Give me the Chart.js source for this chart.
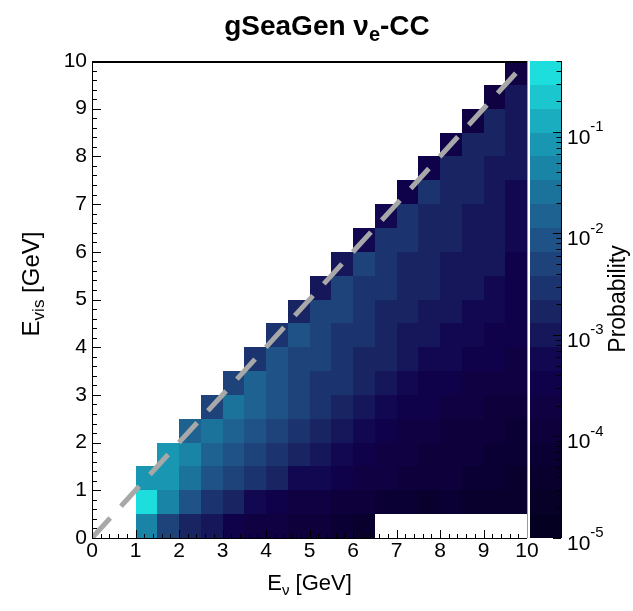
<!DOCTYPE html>
<html>
<head>
<meta charset="utf-8">
<script src="https://cdn.jsdelivr.net/npm/chart.js@4.4.1/dist/chart.umd.min.js"></script>
<style>
  html, body { margin: 0; padding: 0; background: #fff; }
  #caixa { width: 633px; height: 611px; }
</style>
</head>
<body>
<div id="caixa"><canvas id="grafico"></canvas></div>
<script>
/* --------- DADOS --------- */

// bins de 0.5 GeV, E_nu no eixo x e E_vis no eixo y
const larguraBin = 0.5;
const ticksEixo = [0, 1, 2, 3, 4, 5, 6, 7, 8, 9, 10];
const ticksCor = [1e-5, 1e-4, 1e-3, 1e-2, 1e-1];
const zMin = 1e-5;
const zMax = 0.5;
const nContornos = 20;

// probabilidade por bin: uma linha por bin de E_vis (0-0.5, 0.5-1, ...),
// cada coluna = bin de E_nu (0-0.5 ... 9.5-10). null = bin vazio
const _ = null;
const probPorLinha = [
  [_, _, 4.4e-2, 5.0e-3, 1.7e-3, 1.0e-3, 3.4e-4, 2.0e-4, 1.9e-4, 1.1e-4, 1.0e-4, 6.5e-5, 4.0e-5, _, _, _, _, _, _, _],
  [_, _, 0.38, 4.4e-2, 8.6e-3, 2.9e-3, 1.7e-3, 5.8e-4, 3.4e-4, 2.0e-4, 1.9e-4, 1.1e-4, 1.0e-4, 7.0e-5, 6.5e-5, 4.2e-5, 6.0e-5, 4.0e-5, 4.5e-5, 4.0e-5],
  [_, _, 7.5e-2, 7.2e-2, 2.6e-2, 8.6e-3, 5.0e-3, 2.9e-3, 1.7e-3, 5.8e-4, 5.5e-4, 3.4e-4, 2.0e-4, 1.9e-4, 1.1e-4, 1.0e-4, 1.0e-4, 6.5e-5, 6.5e-5, 4.0e-5],
  [_, _, _, 7.0e-2, 4.4e-2, 1.5e-2, 8.6e-3, 5.0e-3, 2.9e-3, 1.7e-3, 1.0e-3, 5.8e-4, 3.4e-4, 2.0e-4, 1.9e-4, 1.1e-4, 1.0e-4, 1.0e-4, 6.5e-5, 6.5e-5],
  [_, _, _, _, 1.5e-2, 2.6e-2, 1.5e-2, 8.6e-3, 5.0e-3, 2.9e-3, 1.7e-3, 1.0e-3, 5.8e-4, 3.4e-4, 2.0e-4, 1.9e-4, 1.1e-4, 1.0e-4, 1.0e-4, 6.5e-5],
  [_, _, _, _, _, 5.0e-3, 2.6e-2, 1.5e-2, 8.6e-3, 5.0e-3, 2.9e-3, 1.7e-3, 1.0e-3, 5.8e-4, 3.4e-4, 3.2e-4, 2.0e-4, 1.9e-4, 1.1e-4, 1.0e-4],
  [_, _, _, _, _, _, 4.8e-3, 1.5e-2, 8.6e-3, 5.0e-3, 2.9e-3, 2.8e-3, 1.7e-3, 1.0e-3, 5.8e-4, 3.4e-4, 3.3e-4, 2.0e-4, 1.9e-4, 1.8e-4],
  [_, _, _, _, _, _, _, 2.9e-3, 8.4e-3, 5.0e-3, 4.8e-3, 2.9e-3, 1.7e-3, 1.6e-3, 1.0e-3, 5.8e-4, 5.6e-4, 3.4e-4, 3.3e-4, 2.0e-4],
  [_, _, _, _, _, _, _, _, 2.8e-3, 8.6e-3, 5.0e-3, 2.9e-3, 2.8e-3, 1.7e-3, 1.0e-3, 9.8e-4, 5.8e-4, 5.6e-4, 3.4e-4, 3.3e-4],
  [_, _, _, _, _, _, _, _, _, 1.7e-3, 5.2e-3, 5.0e-3, 2.9e-3, 1.7e-3, 1.6e-3, 1.0e-3, 9.8e-4, 5.8e-4, 5.6e-4, 3.4e-4],
  [_, _, _, _, _, _, _, _, _, _, 1.0e-3, 5.0e-3, 2.9e-3, 2.8e-3, 1.7e-3, 1.6e-3, 1.0e-3, 9.8e-4, 5.8e-4, 3.3e-4],
  [_, _, _, _, _, _, _, _, _, _, _, 9.8e-4, 5.0e-3, 2.9e-3, 1.7e-3, 1.6e-3, 1.0e-3, 9.8e-4, 9.6e-4, 3.4e-4],
  [_, _, _, _, _, _, _, _, _, _, _, _, 5.8e-4, 2.9e-3, 2.8e-3, 1.7e-3, 1.6e-3, 1.0e-3, 9.8e-4, 5.8e-4],
  [_, _, _, _, _, _, _, _, _, _, _, _, _, 5.6e-4, 2.9e-3, 1.7e-3, 1.6e-3, 1.0e-3, 9.8e-4, 5.6e-4],
  [_, _, _, _, _, _, _, _, _, _, _, _, _, _, 3.4e-4, 2.8e-3, 1.7e-3, 1.6e-3, 1.0e-3, 5.8e-4],
  [_, _, _, _, _, _, _, _, _, _, _, _, _, _, _, 3.3e-4, 1.7e-3, 1.6e-3, 1.0e-3, 9.8e-4],
  [_, _, _, _, _, _, _, _, _, _, _, _, _, _, _, _, 3.4e-4, 1.7e-3, 1.6e-3, 1.0e-3],
  [_, _, _, _, _, _, _, _, _, _, _, _, _, _, _, _, _, 2.0e-4, 1.7e-3, 9.8e-4],
  [_, _, _, _, _, _, _, _, _, _, _, _, _, _, _, _, _, _, 1.9e-4, 1.0e-3],
  [_, _, _, _, _, _, _, _, _, _, _, _, _, _, _, _, _, _, _, 2.0e-4]
];

// linha E_vis = E_nu
const diagonal = [{ x: 0, y: 0 }, { x: 10, y: 10 }];

/* --------- PALETA (DeepSea do ROOT) --------- */

const paradaR = [0, 9, 13, 17, 24, 32, 27, 25, 29];
const paradaG = [0, 0, 0, 2, 37, 74, 113, 160, 221];
const paradaB = [28, 42, 59, 78, 98, 129, 154, 184, 221];
const nCores = 255;

function corPaleta(t) {
  const s = t * 8;
  const i = Math.min(7, Math.floor(s));
  const f = s - i;
  const mix = (arr) => Math.round(arr[i] + f * (arr[i + 1] - arr[i]));
  return `rgb(${mix(paradaR)},${mix(paradaG)},${mix(paradaB)})`;
}

const larguraBanda = (Math.log10(zMax) - Math.log10(zMin)) / nContornos;

// mesma regra do THistPainter: nivel do contorno -> indice da paleta
function corDoNivel(nivel) {
  const idx = Math.floor((nivel + 0.99) * nCores / nContornos);
  return corPaleta(Math.min(idx, nCores - 1) / (nCores - 1));
}

function corDoValor(v) {
  let nivel = Math.floor((Math.log10(v) - Math.log10(zMin)) / larguraBanda);
  nivel = Math.max(0, Math.min(nContornos - 1, nivel));
  return corDoNivel(nivel);
}

// pontos no centro de cada bin, com a probabilidade junto
const celulas = [];
probPorLinha.forEach((linha, iy) => {
  linha.forEach((v, ix) => {
    if (v === null) return;
    celulas.push({ x: (ix + 0.5) * larguraBin, y: (iy + 0.5) * larguraBin, v });
  });
});

/* --------- TEXTO COM INDICE --------- */

const fonte = '"Liberation Sans", Arial, Helvetica, sans-serif';

// partes: [{t, tam, dy, negrito}] ; desenha na linha de base y do ctx atual
function larguraPartes(ctx, partes) {
  let w = 0;
  partes.forEach(p => {
    ctx.font = `${p.negrito ? 'bold ' : ''}${p.tam}px ${fonte}`;
    w += ctx.measureText(p.t).width;
  });
  return w;
}

function desenhaPartes(ctx, partes, x, y) {
  let cx = x;
  partes.forEach(p => {
    ctx.font = `${p.negrito ? 'bold ' : ''}${p.tam}px ${fonte}`;
    ctx.fillText(p.t, cx, y + (p.dy || 0));
    cx += ctx.measureText(p.t).width;
  });
}

/* --------- PLUGIN: celulas, moldura, barra de cores --------- */

const plugMapa = {
  id: 'mapa',
  beforeDatasetsDraw(chart) {
    const { ctx, scales: { x, y } } = chart;
    ctx.save();
    chart.data.datasets[0].data.forEach(p => {
      const x0 = Math.round(x.getPixelForValue(p.x - larguraBin / 2));
      const x1 = Math.round(x.getPixelForValue(p.x + larguraBin / 2));
      const y0 = Math.round(y.getPixelForValue(p.y + larguraBin / 2));
      const y1 = Math.round(y.getPixelForValue(p.y - larguraBin / 2));
      ctx.fillStyle = corDoValor(p.v);
      ctx.fillRect(x0, y0, x1 - x0, y1 - y0);
    });
    ctx.restore();
  },
  afterDatasetsDraw(chart) {
    const { ctx, chartArea: a, scales: { x, y, z } } = chart;
    ctx.save();

    // ticks para dentro, 5 subdivisoes
    ctx.strokeStyle = '#000';
    ctx.lineWidth = 1;
    ctx.beginPath();
    for (let i = 0; i <= 50; i++) {
      const v = i * 0.2;
      const grande = i % 5 === 0;
      const px = Math.round(x.getPixelForValue(v)) + 0.5;
      ctx.moveTo(px, a.bottom);
      ctx.lineTo(px, a.bottom - (grande ? 8 : 4));
      const py = Math.round(y.getPixelForValue(v)) + 0.5;
      ctx.moveTo(a.left, py);
      ctx.lineTo(a.left + (grande ? 9 : 5), py);
    }
    ctx.stroke();

    // moldura
    ctx.beginPath();
    ctx.moveTo(a.left + 0.5, a.top);
    ctx.lineTo(a.left + 0.5, a.bottom + 0.5);
    ctx.lineTo(a.right, a.bottom + 0.5);
    ctx.stroke();
    ctx.lineWidth = 2;
    ctx.beginPath();
    ctx.moveTo(a.left, a.top + 1);
    ctx.lineTo(a.right, a.top + 1);
    ctx.stroke();
    ctx.strokeStyle = '#9a9a9a';
    ctx.lineWidth = 1;
    ctx.beginPath();
    ctx.moveTo(a.right + 0.5, a.top);
    ctx.lineTo(a.right + 0.5, a.bottom);
    ctx.stroke();

    // barra de cores
    const bx0 = a.right + 3;
    const bx1 = a.right + 34;
    const logMin = Math.log10(zMin);
    for (let k = 0; k < nContornos; k++) {
      const yb = Math.round(z.getPixelForValue(Math.pow(10, logMin + k * larguraBanda)));
      const yt = Math.round(z.getPixelForValue(Math.pow(10, logMin + (k + 1) * larguraBanda)));
      ctx.fillStyle = corDoNivel(k);
      ctx.fillRect(bx0, yt, bx1 - bx0, yb - yt);
    }
    ctx.strokeStyle = '#000';
    ctx.beginPath();
    ctx.moveTo(bx1 + 0.5, z.top);
    ctx.lineTo(bx1 + 0.5, z.bottom);
    for (let dec = -5; dec <= 0; dec++) {
      for (let m = 1; m <= 9; m++) {
        const v = m * Math.pow(10, dec);
        if (v < zMin || v > zMax) continue;
        const py = Math.round(z.getPixelForValue(v)) + 0.5;
        ctx.moveTo(bx1, py);
        ctx.lineTo(bx1 - (m === 1 ? 8 : 4.5), py);
      }
    }
    ctx.stroke();

    // rotulos 10^n da barra
    ctx.fillStyle = '#000';
    ctx.textBaseline = 'middle';
    ctx.textAlign = 'left';
    ticksCor.forEach(v => {
      const py = z.getPixelForValue(v);
      const exp = Math.round(Math.log10(v));
      desenhaPartes(ctx, [
        { t: '10', tam: 21, dy: 6 },
        { t: '-' + Math.abs(exp), tam: 15, dy: -5 }
      ], bx1 + 6, py);
    });

    // titulo
    ctx.textBaseline = 'alphabetic';
    const partesTitulo = [
      { t: 'gSeaGen ν', tam: 28, negrito: true },
      { t: 'e', tam: 20, dy: 6, negrito: true },
      { t: '-CC', tam: 28, negrito: true }
    ];
    const wt = larguraPartes(ctx, partesTitulo);
    desenhaPartes(ctx, partesTitulo, 327 - wt / 2, 35);

    // titulo do eixo x
    const partesX = [
      { t: 'E', tam: 22 },
      { t: 'ν', tam: 15, dy: 5 },
      { t: ' [GeV]', tam: 22 }
    ];
    const wx = larguraPartes(ctx, partesX);
    desenhaPartes(ctx, partesX, (a.left + a.right) / 2 - wx / 2, 590);

    // titulo do eixo y (girado)
    const partesY = [
      { t: 'E', tam: 24 },
      { t: 'vis', tam: 17, dy: 5 },
      { t: ' [GeV]', tam: 24 }
    ];
    const wy = larguraPartes(ctx, partesY);
    ctx.save();
    ctx.translate(39, 284);
    ctx.rotate(-Math.PI / 2);
    desenhaPartes(ctx, partesY, -wy / 2, 0);
    ctx.restore();

    // titulo da barra
    const partesZ = [{ t: 'Probability', tam: 23 }];
    const wz = larguraPartes(ctx, partesZ);
    ctx.save();
    ctx.translate(625, 299);
    ctx.rotate(-Math.PI / 2);
    desenhaPartes(ctx, partesZ, -wz / 2, 0);
    ctx.restore();

    ctx.restore();
  }
};

/* --------- GRAFICO --------- */

Chart.defaults.font.family = fonte;
Chart.defaults.color = '#000';

const grafico = new Chart(document.getElementById('grafico'), {
  type: 'scatter',
  data: {
    datasets: [
      {
        label: 'Probability',
        data: celulas,
        pointRadius: 0,
        showLine: false,
        xAxisID: 'x',
        yAxisID: 'y'
      },
      {
        label: 'E_vis = E_nu',
        data: diagonal,
        showLine: true,
        pointRadius: 0,
        borderColor: '#a8a8a8',
        borderWidth: 5,
        borderDash: [27, 16],
        xAxisID: 'x',
        yAxisID: 'y'
      }
    ]
  },
  options: {
    responsive: true,
    maintainAspectRatio: false,
    animation: false,
    events: [],
    layout: { padding: { top: 61, left: 0, right: 0, bottom: 0 } },
    plugins: { legend: { display: false }, tooltip: { enabled: false } },
    scales: {
      x: {
        type: 'linear',
        min: 0,
        max: 10,
        afterBuildTicks(s) { s.ticks = ticksEixo.map(v => ({ value: v })); },
        ticks: { font: { size: 21 }, padding: 1, maxRotation: 0, autoSkip: false },
        grid: { display: false, drawTicks: false },
        border: { display: false },
        afterFit(s) { s.height = 73; }
      },
      y: {
        type: 'linear',
        min: 0,
        max: 10,
        afterBuildTicks(s) { s.ticks = ticksEixo.map(v => ({ value: v })); },
        ticks: { font: { size: 21 }, padding: 5, autoSkip: false },
        grid: { display: false, drawTicks: false },
        border: { display: false },
        afterFit(s) { s.width = 92; }
      },
      z: {
        type: 'logarithmic',
        axis: 'y',
        position: 'right',
        min: zMin,
        max: zMax,
        ticks: { display: false },
        grid: { display: false, drawTicks: false },
        border: { display: false },
        afterFit(s) { s.width = 106; }
      }
    }
  },
  plugins: [plugMapa]
});
</script>
</body>
</html>
